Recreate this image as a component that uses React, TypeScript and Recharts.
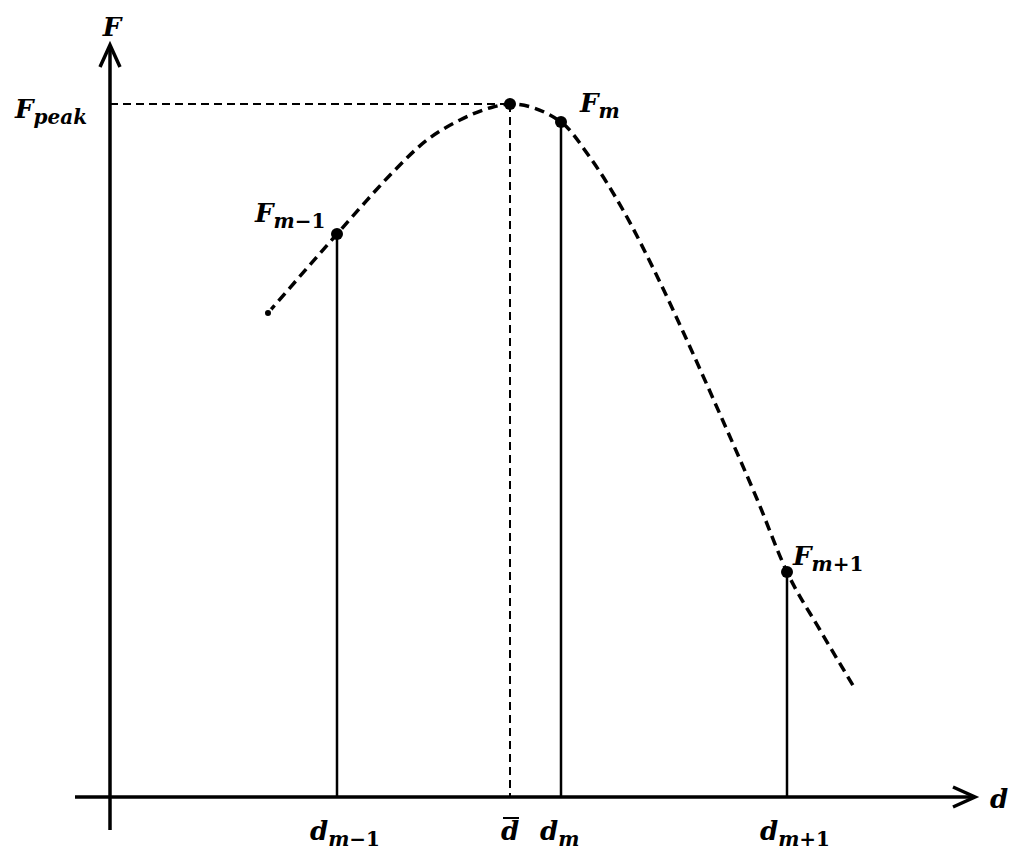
import { ComposedChart, Line, XAxis, YAxis, ReferenceLine, ReferenceDot } from 'recharts';

// curve F(d)
const curveD = [1.58, 2.27, 2.5, 2.83, 3.17, 3.5, 3.83, 4.0, 4.51, 4.79, 5.13, 5.46, 5.8, 6.13, 6.47, 6.77, 7.1, 7.44];
const curveF = [4.84, 5.63, 5.89, 6.25, 6.57, 6.77, 6.9, 6.93, 6.75, 6.41, 5.87, 5.23, 4.5, 3.76, 2.98, 2.25, 1.67, 1.1];

// sample points
const sampleD = [2.27, 4.51, 6.77];
const sampleF = [5.63, 6.75, 2.25];
const sampleSub = ['m−1', 'm', 'm+1'];

const peakD = 4.0;
const peakF = 6.93;

// axis extents
const xAxisRange = [-0.35, 8.65];
const yAxisRange = [-0.33, 7.52];

const data = curveD.map((d, i) => ({ d, F: curveF[i] }));

const FONT = '"DejaVu Serif", serif';
const BIG = 26;
const SMALL = 20;

// label with subscript; sub is split so digits/operators stay upright
function MathLabel({ x, y, base, sub, anchor = 'start' }: any) {
  const m = sub ? sub.match(/^([a-z]*)(.*)$/) : null;
  return (
    <text x={x} y={y} fontFamily={FONT} fontWeight="bold" fontSize={BIG} fill="#000" textAnchor={anchor}>
      <tspan fontStyle="italic">{base}</tspan>
      {m && (
        <>
          <tspan fontStyle="italic" fontSize={SMALL} dy={6}>{m[1]}</tspan>
          {m[2] && <tspan fontStyle="normal" fontSize={SMALL}>{m[2]}</tspan>}
        </>
      )}
    </text>
  );
}

const ArrowLine = (dir: 'x' | 'y') => (props: any) => {
  const { x1, y1, x2, y2 } = props;
  // arrow tip at the far end (right for x, top for y)
  const tipX = dir === 'x' ? Math.max(x1, x2) : x1;
  const tipY = dir === 'x' ? y1 : Math.min(y1, y2);
  const pts = dir === 'x'
    ? `${tipX - 22},${tipY - 10} ${tipX},${tipY} ${tipX - 22},${tipY + 10}`
    : `${tipX - 10},${tipY + 22} ${tipX},${tipY} ${tipX + 10},${tipY + 22}`;
  return (
    <g>
      <line x1={x1} y1={y1} x2={x2} y2={y2} stroke="#000" strokeWidth={3.5} />
      <polyline points={pts} fill="none" stroke="#000" strokeWidth={3.5} strokeLinejoin="miter" />
    </g>
  );
};

export default function App() {
  return (
    <div style={{ position: 'absolute', left: 0, top: 0, width: 1024, height: 857, background: '#fff' }}>
      <ComposedChart width={1024} height={857} data={data} margin={{ top: 0, right: 0, bottom: 0, left: 0 }}>
        <XAxis type="number" dataKey="d" domain={[-1.1, 9.14]} hide allowDataOverflow />
        <YAxis type="number" domain={[-0.6, 7.97]} hide allowDataOverflow />

        {/* axes */}
        <ReferenceLine segment={[{ x: xAxisRange[0], y: 0 }, { x: xAxisRange[1], y: 0 }]} shape={ArrowLine('x')} ifOverflow="visible" />
        <ReferenceLine segment={[{ x: 0, y: yAxisRange[0] }, { x: 0, y: yAxisRange[1] }]} shape={ArrowLine('y')} ifOverflow="visible" />

        {/* peak guides */}
        <ReferenceLine segment={[{ x: 0, y: peakF }, { x: peakD, y: peakF }]} stroke="#000" strokeWidth={2} strokeDasharray="8 5" />
        <ReferenceLine segment={[{ x: peakD, y: peakF }, { x: peakD, y: 0 }]} stroke="#000" strokeWidth={2} strokeDasharray="8 5" />

        {/* sample stems */}
        {sampleD.map((d, i) => (
          <ReferenceLine key={`s${i}`} segment={[{ x: d, y: 0 }, { x: d, y: sampleF[i] }]} stroke="#000" strokeWidth={2.5} />
        ))}

        <Line type="monotone" dataKey="F" stroke="#000" strokeWidth={3.5} strokeDasharray="10 6" dot={false} isAnimationActive={false} />

        {/* dots */}
        <ReferenceDot x={peakD} y={peakF} r={6} fill="#000" stroke="none" />
        {sampleD.map((d, i) => (
          <ReferenceDot key={`p${i}`} x={d} y={sampleF[i]} r={6} fill="#000" stroke="none" />
        ))}

        {/* labels */}
        <ReferenceDot x={0} y={yAxisRange[1]} r={0} shape={(p: any) => <MathLabel x={p.cx + 2} y={p.cy - 9} base="F" anchor="middle" />} />
        <ReferenceDot x={xAxisRange[1]} y={0} r={0} shape={(p: any) => <MathLabel x={p.cx + 15} y={p.cy + 11} base="d" />} />
        <ReferenceDot x={0} y={peakF} r={0} shape={(p: any) => <MathLabel x={p.cx - 95} y={p.cy + 14} base="F" sub="peak" />} />
        <ReferenceDot x={peakD} y={0} r={0} shape={(p: any) => (
          <g>
            <MathLabel x={p.cx - 9} y={p.cy + 43} base="d" />
            <line x1={p.cx - 7} x2={p.cx + 9} y1={p.cy + 21} y2={p.cy + 21} stroke="#000" strokeWidth={2} />
          </g>
        )} />
        <ReferenceDot x={sampleD[0]} y={sampleF[0]} r={0} shape={(p: any) => <MathLabel x={p.cx - 82} y={p.cy - 12} base="F" sub={sampleSub[0]} />} />
        <ReferenceDot x={sampleD[1]} y={sampleF[1]} r={0} shape={(p: any) => <MathLabel x={p.cx + 19} y={p.cy - 10} base="F" sub={sampleSub[1]} />} />
        <ReferenceDot x={sampleD[2]} y={sampleF[2]} r={0} shape={(p: any) => <MathLabel x={p.cx + 6} y={p.cy - 7} base="F" sub={sampleSub[2]} />} />
        {sampleD.map((d, i) => (
          <ReferenceDot key={`dl${i}`} x={d} y={0} r={0} shape={(p: any) => (
            <MathLabel x={p.cx - (i === 1 ? 21 : 27)} y={p.cy + 43} base="d" sub={sampleSub[i]} />
          )} />
        ))}
      </ComposedChart>
    </div>
  );
}
